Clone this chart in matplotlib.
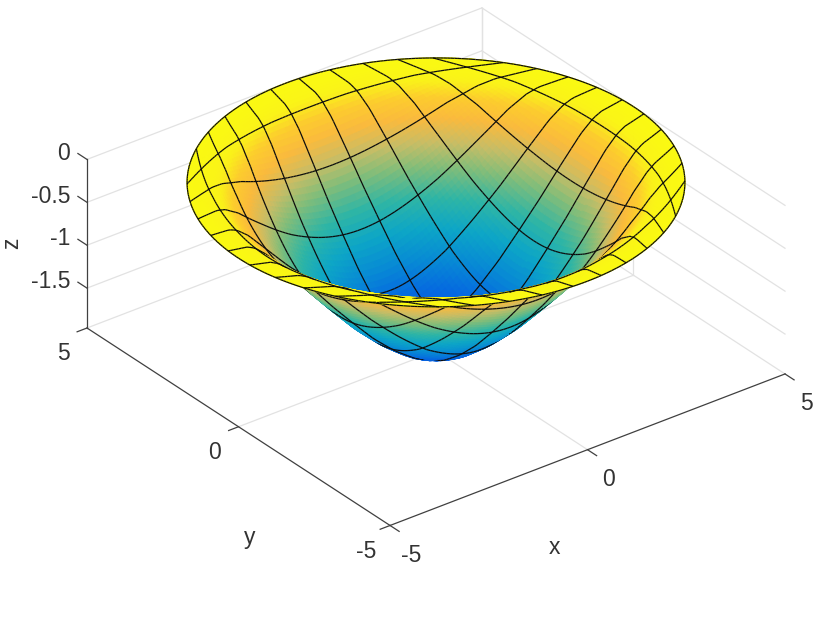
import numpy as np
import matplotlib
matplotlib.use("Agg")
import matplotlib.pyplot as plt
from matplotlib.colors import LinearSegmentedColormap
from mpl_toolkits.mplot3d import proj3d
from mpl_toolkits.mplot3d.art3d import Poly3DCollection

plt.rcParams['font.family'] = ['Liberation Sans', 'DejaVu Sans']

W, H = 830, 626

# radial profile of the bowl
radius = [0, 0.5, 1, 1.5, 2, 2.5, 3, 3.5, 4, 4.3, 4.5, 5]
depth = [-1.95, -1.91, -1.79, -1.60, -1.37, -1.10, -0.82, -0.52, -0.23, -0.10, -0.05, 0.0]

x_ticks = [-5, 0, 5]
y_ticks = [-5, 0, 5]
z_ticks = [-1.5, -1, -0.5, 0]
x_labels = ['-5', '0', '5']
y_labels = ['-5', '0', '5']
z_labels = ['-1.5', '-1', '-0.5', '0']

Z_MIN = -1.965
BOX_Z = 0.391
CELLS = 11     # mesh cells per side
SUB = 10       # facets per mesh cell, for the smooth shading
STRETCH = 0.2  # pushes the inner mesh lines towards the rim

cmap = LinearSegmentedColormap.from_list('bowl', [
    (0.00, (0.02, 0.33, 0.88)),
    (0.15, (0.02, 0.41, 0.88)),
    (0.27, (0.03, 0.55, 0.83)),
    (0.38, (0.05, 0.65, 0.78)),
    (0.50, (0.18, 0.71, 0.65)),
    (0.62, (0.50, 0.74, 0.48)),
    (0.72, (0.78, 0.74, 0.40)),
    (0.82, (0.98, 0.73, 0.24)),
    (0.90, (0.99, 0.80, 0.18)),
    (0.96, (0.98, 0.95, 0.10)),
    (1.00, (0.98, 0.98, 0.07)),
])


def disc_grid(n):
    """Square mesh relaxed onto the disc, uniform in angle along the rim."""
    s = np.linspace(0, 1, n)
    X = np.zeros((n, n))
    Y = np.zeros((n, n))
    X[:, -1] = 5 * np.cos(np.radians(135 - 90 * s))
    Y[:, -1] = 5 * np.sin(np.radians(135 - 90 * s))
    X[:, 0] = 5 * np.cos(np.radians(225 + 90 * s))
    Y[:, 0] = 5 * np.sin(np.radians(225 + 90 * s))
    X[0, :] = 5 * np.cos(np.radians(225 - 90 * s))
    Y[0, :] = 5 * np.sin(np.radians(225 - 90 * s))
    X[-1, :] = 5 * np.cos(np.radians(-45 + 90 * s))
    Y[-1, :] = 5 * np.sin(np.radians(-45 + 90 * s))
    for _ in range(12000):
        X[1:-1, 1:-1] = 0.25 * (X[2:, 1:-1] + X[:-2, 1:-1] + X[1:-1, 2:] + X[1:-1, :-2])
        Y[1:-1, 1:-1] = 0.25 * (Y[2:, 1:-1] + Y[:-2, 1:-1] + Y[1:-1, 2:] + Y[1:-1, :-2])
    stretch = 1 + STRETCH * (1 - (X ** 2 + Y ** 2) / 25)
    return X * stretch, Y * stretch


n = CELLS * SUB + 1
X, Y = disc_grid(n)
R = np.hypot(X, Y)
Z = np.interp(R, radius, depth)

fig = plt.figure(figsize=(W / 100, H / 100), dpi=100)
ax = fig.add_axes([0, 0, 1, 1], projection='3d', computed_zorder=False)
ax.set_proj_type('ortho')
ax.view_init(elev=30, azim=-127.5)
ax.set_xlim(-5, 5, view_margin=0)
ax.set_ylim(-5, 5, view_margin=0)
ax.set_zlim(Z_MIN, 0, view_margin=0)
ax.set_box_aspect((1, 1, BOX_Z))
ax.set_axis_off()
ax.patch.set_alpha(0)


def to_px(x, y, z):
    fig.canvas.draw()
    px, py, _ = proj3d.proj_transform(x, y, z, ax.get_proj())
    return ax.transData.transform((px, py))


# place the axes so that the floor corners land where they are in the reference
a = to_px(-5, 5, Z_MIN)
b = to_px(5, -5, Z_MIN)
scale = (785 - 87) / (b[0] - a[0])
side = min(W, H) * scale
ax.set_position([0, 0, side / W, side / H])
a = to_px(-5, 5, Z_MIN)
left = 87 - a[0]
bottom = (H - 328) - a[1]
ax.set_position([left / W, bottom / H, side / W, side / H])

# surface facets plus mesh lines in one collection, so they are depth sorted together
col_mid = (Z[:-1, :-1] + Z[1:, :-1] + Z[:-1, 1:] + Z[1:, 1:]) / 4
face_col = cmap(np.clip((col_mid - Z_MIN) / (0 - Z_MIN), 0, 1)).reshape(-1, 4)
polys = []
for i in range(n - 1):
    for j in range(n - 1):
        polys.append([(X[i, j], Y[i, j], Z[i, j]), (X[i + 1, j], Y[i + 1, j], Z[i + 1, j]),
                      (X[i + 1, j + 1], Y[i + 1, j + 1], Z[i + 1, j + 1]), (X[i, j + 1], Y[i, j + 1], Z[i, j + 1])])

el, az = np.radians(30), np.radians(-127.5)
view = np.array([np.cos(el) * np.cos(az), np.cos(el) * np.sin(az), np.sin(el)])
bias = 0.04 * view * np.array([10, 10, -Z_MIN / BOX_Z])


def seg(p, q):
    p = np.array(p) + bias
    q = np.array(q) + bias
    return [tuple(p), tuple(q), tuple(q), tuple(p)]


lines = []
for k in range(0, n, SUB):
    for m in range(n - 1):
        lines.append(seg((X[k, m], Y[k, m], Z[k, m]), (X[k, m + 1], Y[k, m + 1], Z[k, m + 1])))
        lines.append(seg((X[m, k], Y[m, k], Z[m, k]), (X[m + 1, k], Y[m + 1, k], Z[m + 1, k])))

black = np.tile((0.05, 0.05, 0.05, 1), (len(lines), 1))
surf = Poly3DCollection(polys + lines,
                        facecolors=np.vstack([face_col, black]),
                        edgecolors=np.vstack([face_col, black]),
                        linewidths=0.9, zorder=2, clip_on=False)
ax.add_collection3d(surf)

GRID = '#e2e2e2'
AXIS = '#404040'
TEXT = '#333333'
LW = 0.9


def line3(xs, ys, zs, color, order):
    ax.plot(xs, ys, zs, color=color, lw=LW, zorder=order, clip_on=False)


# back walls and floor
for z in z_ticks:
    line3([-5, 5], [5, 5], [z, z], GRID, 1)
    line3([5, 5], [5, -5], [z, z], GRID, 1)
for x in x_ticks[1:]:
    line3([x, x], [-5, 5], [Z_MIN, Z_MIN], GRID, 1)
    line3([x, x], [5, 5], [Z_MIN, 0], GRID, 1)
for y in y_ticks[1:]:
    line3([-5, 5], [y, y], [Z_MIN, Z_MIN], GRID, 1)
    line3([5, 5], [y, y], [Z_MIN, 0], GRID, 1)

# axis lines with outward ticks
line3([-5, 5], [-5, -5], [Z_MIN, Z_MIN], AXIS, 3)
line3([-5, -5], [-5, 5], [Z_MIN, Z_MIN], AXIS, 3)
line3([-5, -5], [5, 5], [Z_MIN, 0], AXIS, 3)
for x in x_ticks:
    line3([x, x], [-5, -5.3], [Z_MIN, Z_MIN], AXIS, 3)
for y in y_ticks:
    line3([-5, -5.25], [y, y], [Z_MIN, Z_MIN], AXIS, 3)
for z in z_ticks:
    line3([-5, -5], [5, 5.3], [z, z], AXIS, 3)


def label(x, y, z, text, dx, dy, **kw):
    px, py, _ = proj3d.proj_transform(x, y, z, ax.get_proj())
    ax.annotate(text, xy=(px, py), xytext=(dx * 0.72, dy * 0.72), textcoords='offset points',
                color=TEXT, fontsize=16.5, ha='center', va='center', annotation_clip=False, **kw)


for x, t in zip(x_ticks, x_labels):
    label(x, -5, Z_MIN, t, 21, -30)
for y, t in zip(y_ticks, y_labels):
    label(-5, y, Z_MIN, t, -24, -26)
for z, t in zip(z_ticks, z_labels):
    px, py, _ = proj3d.proj_transform(-5, 5, z, ax.get_proj())
    ax.annotate(t, xy=(px, py), xytext=(-12, 4.5), textcoords='offset points',
                color=TEXT, fontsize=16.5, ha='right', va='center', annotation_clip=False)

label(0, -5, Z_MIN, 'x', -33, -98)
label(-5, 0, Z_MIN, 'y', 11, -111)
label(-5, 5, -1.0, 'z', -75, 2, rotation=90)

fig.savefig('out.png', dpi=100)
